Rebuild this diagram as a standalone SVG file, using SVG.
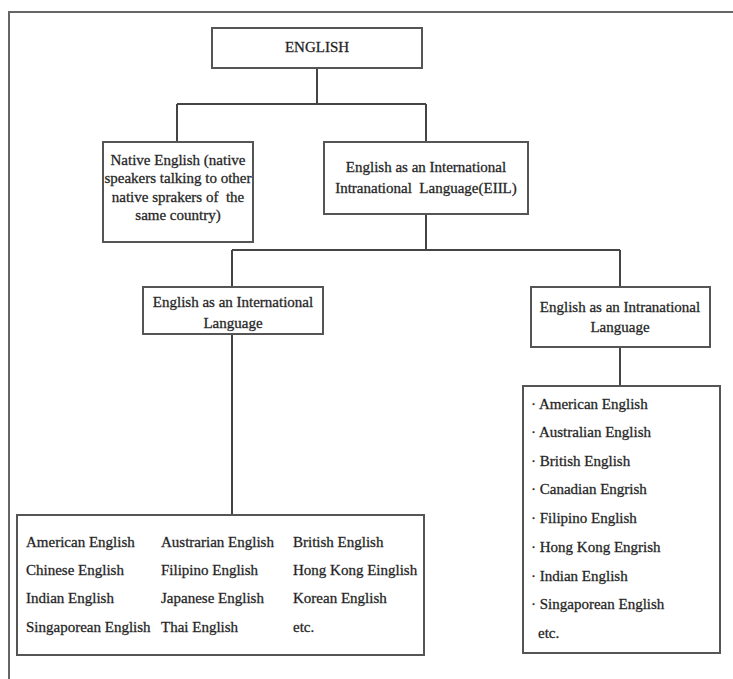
<svg xmlns="http://www.w3.org/2000/svg" width="733" height="679" viewBox="0 0 733 679">
<style>
.box{fill:#fff;stroke:#555;stroke-width:2}
.ln{fill:none;stroke:#444;stroke-width:2}
text{font-family:"Liberation Serif","Times New Roman",serif;font-size:15px;fill:#1a1a1a;stroke:#333;stroke-width:0.3}
.c{text-anchor:middle}
.pre{white-space:pre}
</style>
<rect width="733" height="679" fill="#fff"/>
<path d="M9,679 V12 H733" fill="none" stroke="#666" stroke-width="2"/>
<g id="connectors" class="ln">
<path d="M317,68 V104 M177,104 H426 M177,104 V142 M426,104 V142"/>
<path d="M426,214 V250 M232,250 H620 M232,250 V287 M620,250 V287"/>
<path d="M232,334 V515"/>
<path d="M620,347 V386"/>
</g>
<g id="english">
<rect class="box" x="212" y="28" width="210" height="40"/>
<text class="c" x="317" y="52" font-size="14">ENGLISH</text>
</g>
<g id="native">
<rect class="box" x="103" y="142" width="150" height="100"/>
<text class="c" x="178" y="165">Native English (native</text>
<text class="c" x="178" y="183" font-size="14.5">speakers talking to other</text>
<text class="c pre" x="178" y="202">native sprakers of  the</text>
<text class="c" x="178" y="220">same country)</text>
</g>
<g id="eiil">
<rect class="box" x="324" y="142" width="204" height="72"/>
<text class="c" x="426" y="172">English as an International</text>
<text class="c pre" x="426" y="193">Intranational  Language(EIIL)</text>
</g>
<g id="international">
<rect class="box" x="143" y="287" width="180" height="47"/>
<text class="c" x="233" y="307">English as an International</text>
<text class="c" x="233" y="328">Language</text>
</g>
<g id="intranational">
<rect class="box" x="531" y="287" width="179" height="60"/>
<text class="c" x="620" y="312">English as an Intranational</text>
<text class="c" x="620" y="332">Language</text>
</g>
<g id="intl-list">
<rect class="box" x="17" y="515" width="407" height="140"/>
<text x="26" y="547">American English</text>
<text x="26" y="575">Chinese English</text>
<text x="26" y="603">Indian English</text>
<text x="26" y="632">Singaporean English</text>
<text x="161" y="547">Austrarian English</text>
<text x="161" y="575">Filipino English</text>
<text x="161" y="603">Japanese English</text>
<text x="161" y="632">Thai English</text>
<text x="293" y="547">British English</text>
<text x="293" y="575">Hong Kong Einglish</text>
<text x="293" y="603">Korean English</text>
<text x="293" y="632">etc.</text>
</g>
<g id="intra-list">
<rect class="box" x="523" y="386" width="197" height="267"/>
<text x="531" y="409">· American English</text>
<text x="531" y="437">· Australian English</text>
<text x="531" y="466">· British English</text>
<text x="531" y="494">· Canadian Engrish</text>
<text x="531" y="523">· Filipino English</text>
<text x="531" y="552">· Hong Kong Engrish</text>
<text x="531" y="581">· Indian English</text>
<text x="531" y="609">· Singaporean English</text>
<text x="538" y="638">etc.</text>
</g>
</svg>
